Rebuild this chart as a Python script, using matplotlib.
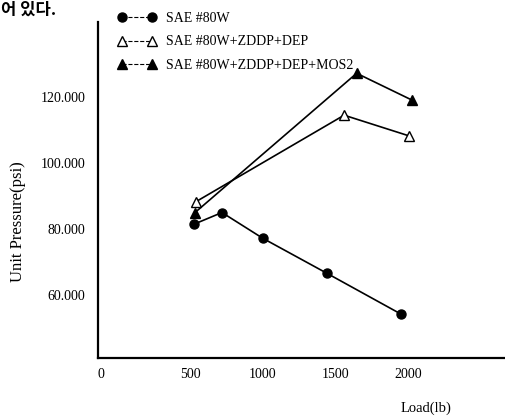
import matplotlib
matplotlib.use('Agg')
import matplotlib.pyplot as plt
from matplotlib.lines import Line2D

plt.rcParams['font.family'] = ['Liberation Serif', 'DejaVu Serif']

# Data
load_sae = [530, 720, 1000, 1440, 1950]
psi_sae = [81500, 85000, 77200, 66600, 54200]

load_zddp = [542, 1559, 2007]
psi_zddp = [88300, 114500, 108200]

load_mos2 = [535, 1645, 2024]
psi_mos2 = [85000, 127200, 119100]

labels = ['SAE #80W', 'SAE #80W+ZDDP+DEP', 'SAE #80W+ZDDP+DEP+MOS2']
x_ticks = [500, 1000, 1500, 2000]
y_ticks = [60000, 80000, 100000, 120000]
y_tick_labels = ['60.000', '80.000', '100.000', '120.000']

fig = plt.figure(figsize=(5.06, 4.18), dpi=100)
ax = fig.add_axes([0.193, 0.1435, 0.807, 0.8035])

ax.plot(load_sae, psi_sae, color='black', lw=1.2, marker='o', ms=6.5)
ax.plot(load_zddp, psi_zddp, color='black', lw=1.2, marker='^', ms=7,
        markerfacecolor='white')
ax.plot(load_mos2, psi_mos2, color='black', lw=1.2, marker='^', ms=7)

ax.set_xlim(-134, 2671)
ax.set_ylim(40900, 142700)

# the "0" label sits right at the axis corner in the original
ax.set_xticks([-114] + x_ticks)
ax.set_xticklabels(['0'] + [str(v) for v in x_ticks])
ax.set_yticks(y_ticks)
ax.set_yticklabels(y_tick_labels)
ax.tick_params(axis='both', length=0, labelsize=10)
ax.tick_params(axis='x', pad=7)
ax.tick_params(axis='y', pad=9)

for s in ['top', 'right']:
    ax.spines[s].set_visible(False)
for s in ['left', 'bottom']:
    ax.spines[s].set_linewidth(1.6)

fig.text(426 / 506, 1 - 408 / 418, 'Load(lb)', ha='center', va='center', fontsize=10.5)
fig.text(18 / 506, 1 - 222 / 418, 'Unit Pressure(psi)', ha='center', va='center',
         rotation=90, fontsize=12)

# fragment of the body text above the chart
fig.text(1 / 506, 1 - 1 / 418, '어 있다.', ha='left', va='top', fontsize=12,
         weight='bold', family=['Noto Sans CJK KR', 'DejaVu Sans'])

handles = [
    Line2D([], [], color='black', ls='--', lw=0.8, marker='o', ms=6.5),
    Line2D([], [], color='black', ls='--', lw=0.8, marker='^', ms=7, markerfacecolor='white'),
    Line2D([], [], color='black', ls='--', lw=0.8, marker='^', ms=7),
]
fig.legend(handles, labels, loc='upper left', bbox_to_anchor=(118 / 506, 1 - 12 / 418),
           frameon=False, numpoints=2, handlelength=2.76, handletextpad=0.7,
           labelspacing=0.75, borderpad=0, borderaxespad=0, fontsize=10)

fig.savefig('out.png', dpi=100)
